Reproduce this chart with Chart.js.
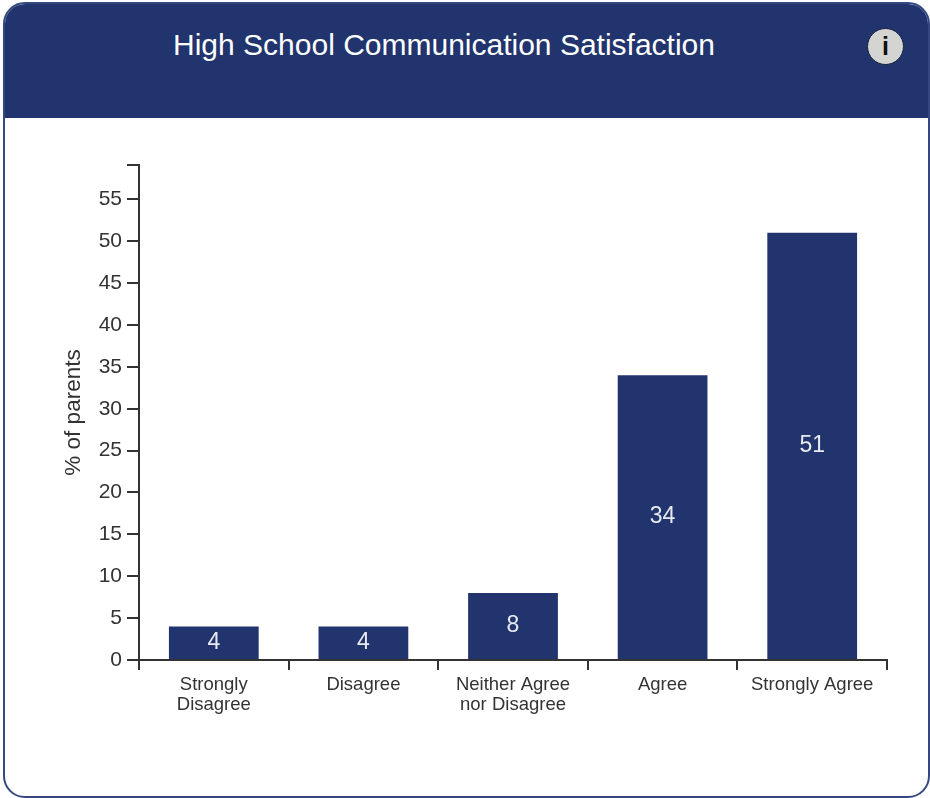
<!DOCTYPE html>
<html>
<head>
<meta charset="utf-8">
<title>High School Communication Satisfaction</title>
<script src="https://cdn.jsdelivr.net/npm/chart.js@4"></script>
<style>
html, body { margin: 0; padding: 0; background: #fff; }
body { width: 930px; height: 798px; overflow: hidden; position: relative; font-family: "Liberation Sans", Arial, sans-serif; }
.card { position: absolute; left: 3px; top: 2px; width: 923px; height: 792px; border: 2px solid #34487f; border-radius: 22px; overflow: hidden; }
.header { position: absolute; left: 0; top: 0; width: 100%; height: 114px; background: #21346d; }
.header h1 { position: absolute; left: 0; top: 23px; width: 878px; margin: 0; text-align: center; color: #fff; font-size: 30px; line-height: 36px; font-weight: normal; }
.info { position: absolute; left: 862px; top: 24px; width: 35px; height: 35px; border-radius: 50%; background: #d4d4d2; border: 1px solid #141d3a; color: #111; text-align: center; font: bold 25px/35px "Liberation Sans", Arial, sans-serif; }
canvas { position: absolute; left: 0; top: 0; }
</style>
</head>
<body>
<div class="card">
  <div class="header">
    <h1>High School Communication Satisfaction</h1>
    <div class="info">i</div>
  </div>
</div>
<canvas id="chart" width="930" height="798"></canvas>
<script>
var categories = [["Strongly", "Disagree"], "Disagree", ["Neither Agree", "nor Disagree"], "Agree", "Strongly Agree"];
var values = [4, 4, 8, 34, 51];
var yTicks = [0, 5, 10, 15, 20, 25, 30, 35, 40, 45, 50, 55, 59.1];
var yLabels = ["0", "5", "10", "15", "20", "25", "30", "35", "40", "45", "50", "55", ""];

// writes the value in the middle of each bar
var barValues = {
    id: 'barValues',
    afterDatasetsDraw: function (chart) {
        var ctx = chart.ctx;
        ctx.save();
        ctx.fillStyle = '#e8eaf2';
        ctx.font = '23px "Liberation Sans", Arial, sans-serif';
        ctx.textAlign = 'center';
        ctx.textBaseline = 'middle';
        chart.getDatasetMeta(0).data.forEach(function (bar, i) {
            ctx.fillText(values[i], bar.x, (bar.y + bar.base) / 2);
        });
        ctx.restore();
    }
};

var ctx = document.getElementById('chart').getContext('2d');
var chart = new Chart(ctx, {
    type: 'bar',
    data: {
        labels: categories,
        datasets: [{
            label: '% of parents',
            data: values,
            backgroundColor: '#21346d',
            barPercentage: 0.6,
            categoryPercentage: 1
        }]
    },
    options: {
        responsive: false,
        animation: false,
        layout: { padding: { left: 60, top: 165, right: 43, bottom: 0 } },
        plugins: { legend: { display: false }, tooltip: { enabled: false } },
        scales: {
            x: {
                grid: { drawOnChartArea: false, color: '#333', tickLength: 10, lineWidth: 2 },
                border: { color: '#333', width: 2 },
                ticks: { color: '#333', maxRotation: 0, autoSkip: false, padding: 4, font: { family: '"Liberation Sans", Arial, sans-serif', size: 18.5, lineHeight: 1.13 } },
                afterFit: function (scale) { scale.height = 138; }
            },
            y: {
                min: 0,
                max: 59.1,
                afterBuildTicks: function (scale) {
                    scale.ticks = yTicks.map(function (v) { return { value: v }; });
                },
                grid: { drawOnChartArea: false, color: '#333', tickLength: 12, lineWidth: 2 },
                border: { color: '#333', width: 2 },
                ticks: {
                    color: '#333',
                    padding: 5,
                    font: { family: '"Liberation Sans", Arial, sans-serif', size: 21 },
                    callback: function (value) { return yLabels[yTicks.indexOf(value)]; }
                },
                title: { display: true, text: '% of parents', color: '#333', padding: 0, font: { family: '"Liberation Sans", Arial, sans-serif', size: 22.5 } },
                afterFit: function (scale) { scale.width = 79; }
            }
        }
    },
    plugins: [barValues]
});
</script>
</body>
</html>
